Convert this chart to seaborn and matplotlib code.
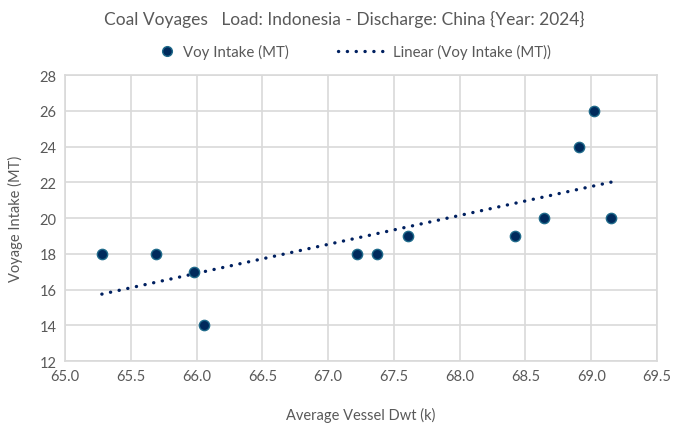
import numpy as np
import pandas as pd
import seaborn as sns
import matplotlib
matplotlib.use("Agg")
import matplotlib.pyplot as plt
from matplotlib.lines import Line2D

dwt = [65.28, 65.69, 65.98, 66.06, 67.22, 67.37, 67.61, 68.42, 68.64, 68.91, 69.02, 69.15]
intake = [18, 18, 17, 14, 18, 18, 19, 19, 20, 24, 26, 20]
x_ticks = [65.0, 65.5, 66.0, 66.5, 67.0, 67.5, 68.0, 68.5, 69.0, 69.5]
y_ticks = [12, 14, 16, 18, 20, 22, 24, 26, 28]

df = pd.DataFrame({"dwt": dwt, "intake": intake})

sns.set_theme(style="white")
plt.rcParams["font.family"] = ["Lato", "DejaVu Sans"]
gray = "#595959"
grid = "#d9d9d9"
navy = "#002a5c"
dots = (0, (0.05, 2.6))

fig = plt.figure(figsize=(6.88, 4.27), dpi=100)
ax = fig.add_axes([0.0945, 0.152, 0.8605, 0.670])

# trend line
coef = np.polyfit(df["dwt"], df["intake"], 1)
xs = np.array([min(dwt), max(dwt)])
trend = pd.DataFrame({"dwt": xs, "fit": coef[0] * xs + coef[1]})
sns.lineplot(data=trend, x="dwt", y="fit", ax=ax, color="#002060", lw=2.4,
             linestyle=dots, dash_capstyle="round", zorder=2)

sns.scatterplot(data=df, x="dwt", y="intake", ax=ax, s=55, color=navy,
                edgecolor="#1f6a8a", linewidth=1.0, zorder=3)

ax.set_xlim(65.0, 69.5)
ax.set_ylim(12, 28)
ax.set_xticks(x_ticks)
ax.set_xticklabels([f"{v:.1f}" for v in x_ticks])
ax.set_yticks(y_ticks)
ax.grid(True, color=grid, lw=1.2)
ax.set_axisbelow(True)
for s in ax.spines.values():
    s.set_color(grid)
    s.set_linewidth(1.2)
ax.tick_params(colors=gray, labelsize=10.5, length=0, pad=6)
ax.set_xlabel("Average Vessel Dwt (k)", color=gray, fontsize=10.5, labelpad=17)
ax.set_ylabel("Voyage Intake (MT)", color=gray, fontsize=10.5, labelpad=12)

fig.suptitle("Coal Voyages   Load: Indonesia - Discharge: China {Year: 2024}",
             x=0.5, y=0.975, color=gray, fontsize=12.5)

h1 = Line2D([], [], marker="o", linestyle="none", markersize=7, markerfacecolor=navy,
            markeredgecolor="#1f6a8a", label="Voy Intake (MT)")
h2 = Line2D([], [], color="#002060", lw=2.4, linestyle=dots,
            dash_capstyle="round", label="Linear (Voy Intake (MT))")
fig.legend(handles=[h1], loc="center left", bbox_to_anchor=(0.234, 0.877),
           frameon=False, fontsize=10.8, labelcolor=gray, handlelength=0.8,
           handletextpad=0.7, borderpad=0, borderaxespad=0)
fig.legend(handles=[h2], loc="center left", bbox_to_anchor=(0.491, 0.877),
           frameon=False, fontsize=10.8, labelcolor=gray, handlelength=3.4,
           handletextpad=0.3, borderpad=0, borderaxespad=0)

fig.savefig("out.png", dpi=100)
